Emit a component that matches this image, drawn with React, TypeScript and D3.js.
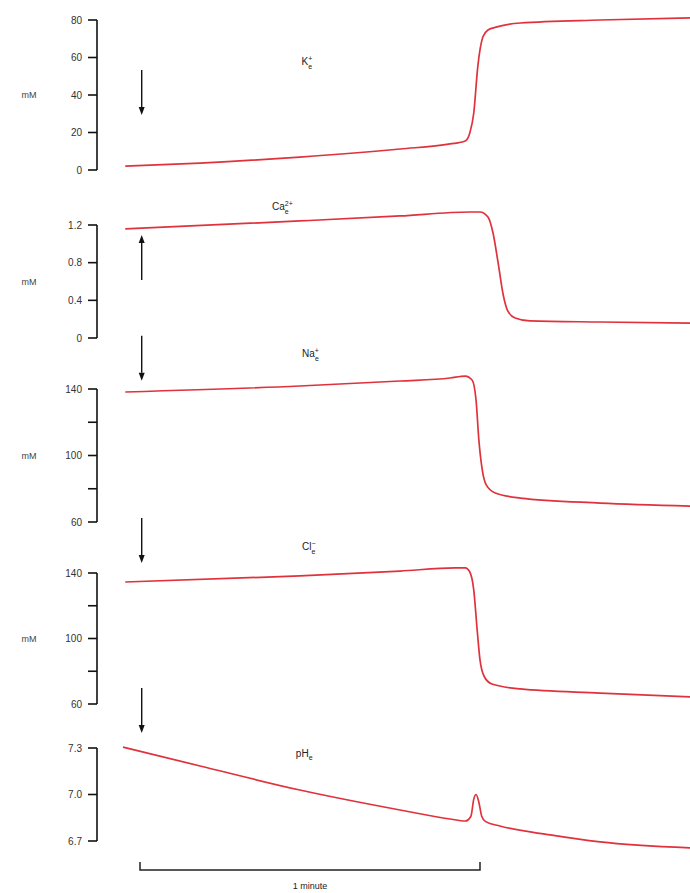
import React from "react";
import * as d3 from "d3";

// time in seconds (0 = stimulus / start of scale bar)
const kTime = [-2.6, 10.6, 28.2, 45.9, 54.7, 57.4, 58.2, 58.9, 59.6, 60.5, 61.4, 63.0, 67.1, 81.2, 97.1];
const kValues = [2.1, 3.7, 6.9, 11.2, 13.9, 15.5, 19.7, 30.4, 54.9, 70.9, 74.7, 76.3, 78.4, 80.0, 81.1];

const caTime = [-2.6, 28.2, 45.9, 58.2, 60.0, 61.4, 62.3, 63.2, 64.1, 64.9, 66.2, 68.8, 81.2, 97.1];
const caValues = [1.158, 1.243, 1.296, 1.338, 1.338, 1.285, 1.115, 0.797, 0.457, 0.287, 0.212, 0.181, 0.17, 0.159];

const naTime = [-2.6, 28.2, 45.9, 54.7, 57.4, 58.6, 59.3, 59.8, 60.4, 61.1, 62.7, 67.1, 81.2, 97.1];
const naValues = [138.2, 141.8, 144.8, 146.6, 147.8, 145.4, 133.4, 109.3, 91.3, 82.3, 77.4, 74.4, 71.4, 69.6];

const clTime = [-2.6, 28.2, 45.9, 55.6, 57.4, 58.2, 58.9, 59.5, 60.0, 60.7, 62.1, 67.1, 81.2, 97.1];
const clValues = [134.5, 138.2, 141.2, 143.1, 143.1, 140.6, 129.6, 105.2, 86.9, 77.1, 72.2, 69.2, 66.7, 64.3];

const phTime = [-3.0, 10.6, 28.2, 45.9, 54.7, 57.4, 58.4, 58.9, 59.3, 59.8, 60.3, 61.0, 63.5, 72.4, 81.2, 97.1];
const phValues = [7.306, 7.184, 7.029, 6.9, 6.842, 6.829, 6.86, 6.97, 7.0, 6.95, 6.86, 6.825, 6.797, 6.739, 6.694, 6.655];

const kTicks = [0, 20, 40, 60, 80];
const kLabels = ["0", "20", "40", "60", "80"];
const caTicks = [0, 0.4, 0.8, 1.2];
const caLabels = ["0", "0.4", "0.8", "1.2"];
const naTicks = [60, 80, 100, 120, 140];
const naLabels = ["60", "", "100", "", "140"];
const clTicks = [60, 80, 100, 120, 140];
const clLabels = ["60", "", "100", "", "140"];
const phTicks = [6.7, 7.0, 7.3];
const phLabels = ["6.7", "7.0", "7.3"];

const arrowTime = 0.3;
const scaleBarSeconds = [0, 60];

type Panel = {
  time: number[];
  values: number[];
  domain: [number, number];
  range: [number, number];
  ticks: number[];
  labels: string[];
  unit: string;
  ion: { base: string; sup: string; sub: string; t: number; v: number };
  arrow: [number, number];
};

const panels: Panel[] = [
  { time: kTime, values: kValues, domain: [0, 80], range: [170, 20], ticks: kTicks, labels: kLabels, unit: "mM",
    ion: { base: "K", sup: "+", sub: "e", t: 28.5, v: 56 }, arrow: [53.3, 29.3] },
  { time: caTime, values: caValues, domain: [0, 1.2], range: [338, 225], ticks: caTicks, labels: caLabels, unit: "mM",
    ion: { base: "Ca", sup: "2+", sub: "e", t: 23.3, v: 1.36 }, arrow: [0.616, 1.094] },
  { time: naTime, values: naValues, domain: [60, 140], range: [522, 389], ticks: naTicks, labels: naLabels, unit: "mM",
    ion: { base: "Na", sup: "+", sub: "e", t: 28.6, v: 159 }, arrow: [172, 145] },
  { time: clTime, values: clValues, domain: [60, 140], range: [704, 573], ticks: clTicks, labels: clLabels, unit: "mM",
    ion: { base: "Cl", sup: "−", sub: "e", t: 28.6, v: 154 }, arrow: [173.6, 146.1] },
  { time: phTime, values: phValues, domain: [6.7, 7.3], range: [841, 748], ticks: phTicks, labels: phLabels, unit: "",
    ion: { base: "pH", sup: "", sub: "e", t: 27.5, v: 7.24 }, arrow: [7.687, 7.397] },
];

export default function App() {
  const x = d3.scaleLinear().domain([0, 60]).range([140, 480]);
  const axisX = 97;
  const font = "Arial, 'Liberation Sans', sans-serif";
  const lineColor = "#e0323c";

  return (
    <svg width={690} height={893} style={{ position: "absolute", left: 0, top: 0 }} fontFamily={font}>
      <rect width={690} height={893} fill="#fff" />
      {panels.map((p, i) => {
        const y = d3.scaleLinear().domain(p.domain).range(p.range);
        const pts = p.time.map((t, j) => [t, p.values[j]] as [number, number]);
        const line = d3
          .line<[number, number]>()
          .x((d) => x(d[0]))
          .y((d) => y(d[1]))
          .curve(d3.curveMonotoneX);
        const [a0, a1] = p.arrow;
        const ax = x(arrowTime);
        const y0 = y(a0);
        const y1 = y(a1);
        const dir = y1 > y0 ? 1 : -1;
        const head = 8;
        return (
          <g key={i}>
            {/* axis */}
            <line x1={axisX} x2={axisX} y1={y(p.domain[0])} y2={y(p.domain[1])} stroke="#111" strokeWidth={1.6} />
            {p.ticks.map((t, j) => (
              <g key={j}>
                <line x1={axisX - 9} x2={axisX} y1={y(t)} y2={y(t)} stroke="#111" strokeWidth={1.6} />
                {p.labels[j] && (
                  <text x={axisX - 15} y={y(t)} dy="0.35em" textAnchor="end" fontSize={10} fill="#333">
                    {p.labels[j]}
                  </text>
                )}
              </g>
            ))}
            {p.unit && (
              <text x={29} y={(y(p.domain[0]) + y(p.domain[1])) / 2} dy="0.35em" textAnchor="middle" fontSize={9} fill="#444">
                {p.unit}
              </text>
            )}
            {/* trace */}
            <path d={line(pts) || ""} fill="none" stroke={lineColor} strokeWidth={1.7} />
            {/* arrow */}
            <line x1={ax} x2={ax} y1={y0} y2={y1 - dir * head} stroke="#111" strokeWidth={1.4} />
            <path
              d={`M${ax - 3},${y1 - dir * head} L${ax + 3},${y1 - dir * head} L${ax},${y1} Z`}
              fill="#111"
            />
            {/* ion label */}
            <text x={x(p.ion.t)} y={y(p.ion.v)} fontSize={10} fill="#222" textAnchor="start">
              <tspan>{p.ion.base}</tspan>
              {p.ion.sup && (
                <tspan fontSize={7} dy={-4}>
                  {p.ion.sup}
                </tspan>
              )}
              <tspan fontSize={7} dx={p.ion.sup ? -(p.ion.sup.length * 4) : 0} dy={p.ion.sup ? 8 : 3}>
                {p.ion.sub}
              </tspan>
            </text>
          </g>
        );
      })}
      {/* scale bar */}
      <path
        d={`M${x(scaleBarSeconds[0])},862 L${x(scaleBarSeconds[0])},870 L${x(scaleBarSeconds[1])},870 L${x(scaleBarSeconds[1])},862`}
        fill="none"
        stroke="#222"
        strokeWidth={1.5}
      />
      <text x={(x(scaleBarSeconds[0]) + x(scaleBarSeconds[1])) / 2} y={889} textAnchor="middle" fontSize={9} fill="#222">
        1 minute
      </text>
    </svg>
  );
}
